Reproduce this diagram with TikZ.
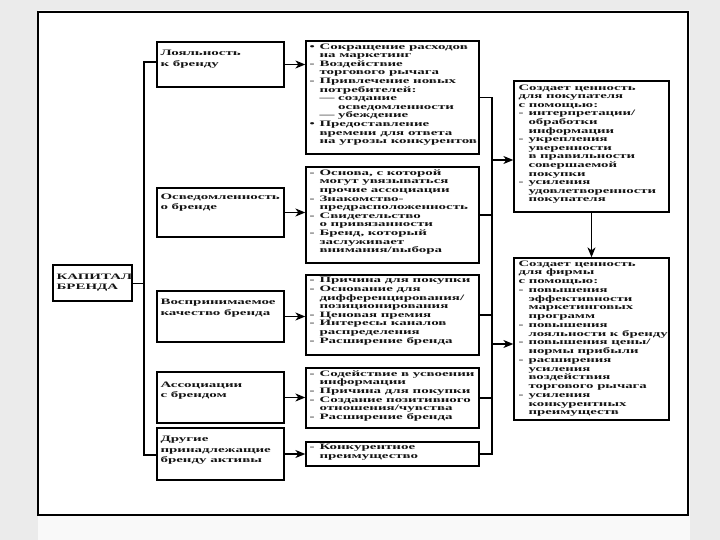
\documentclass[tikz,border=0pt]{standalone}
\usepackage{fontspec}
\setmainfont{Liberation Serif}[FakeStretch=1.8]
\newfontfamily\rfont{Liberation Serif}[FakeStretch=1.78]
\usetikzlibrary{arrows.meta}
\newcommand\mk[1]{\makebox[10pt][l]{#1}}
\newcommand\ci{\hspace*{10pt}}
\begin{document}
\begin{tikzpicture}[x=1pt,y=-1pt,
  box/.style={draw=black,line width=1.3pt,inner sep=0pt,rectangle},
  ln/.style={draw=black,line width=1.2pt},
  arr/.style={ln,-{Stealth[length=10pt,width=8pt,inset=3pt]}},
  txt/.style={anchor=north west,inner sep=0pt,align=left,text=black!92,font=\bfseries\fontsize{8.3}{8.6}\selectfont},
  ltxt/.style={txt,font=\bfseries\fontsize{8.3}{10.5}\selectfont},
  rtxt/.style={txt,font=\rfont\bfseries\fontsize{8.3}{8.6}\selectfont}]
\useasboundingbox (0,0) rectangle (720,540);
\fill[gray!16] (0,0) rectangle (720,540);
\fill[white!95!gray] (38,10) rectangle (690,540);
\fill[white] (38,12) rectangle (688,515);
\draw[line width=2.2pt] (38,12) rectangle (688,515);

% boxes
\node[box,minimum width=79pt,minimum height=36pt] (k) at (92.5,283) {};
\node[box,minimum width=127pt,minimum height=45pt] (l1) at (220.5,64.5) {};
\node[box,minimum width=127pt,minimum height=49pt] (l2) at (220.5,212.5) {};
\node[box,minimum width=127pt,minimum height=51pt] (l3) at (220.5,316.5) {};
\node[box,minimum width=127pt,minimum height=51pt] (l4) at (220.5,397.5) {};
\node[box,minimum width=127pt,minimum height=52pt] (l5) at (220.5,454) {};
\node[box,minimum width=173pt,minimum height=113pt] (m1) at (392.5,97.5) {};
\node[box,minimum width=173pt,minimum height=96pt] (m2) at (392.5,215) {};
\node[box,minimum width=173pt,minimum height=80pt] (m3) at (392.5,315) {};
\node[box,minimum width=173pt,minimum height=60pt] (m4) at (392.5,398) {};
\node[box,minimum width=173pt,minimum height=24pt] (m5) at (392.5,454) {};
\node[box,minimum width=155pt,minimum height=131pt] (r1) at (591.5,146.5) {};
\node[box,minimum width=155pt,minimum height=162pt] (r2) at (591.5,339) {};

% texts
\node[ltxt] (kt) at ([xshift=4pt,yshift=-9pt]k.north west) {КАПИТАЛ\\БРЕНДА};
\node[ltxt] (l1t) at ([xshift=4pt,yshift=-9pt]l1.north west) {Лояльность\\к бренду};
\node[ltxt] (l2t) at ([xshift=4pt,yshift=-6pt]l2.north west) {Осведомленность\\о бренде};
\node[ltxt] (l3t) at ([xshift=4pt,yshift=-9pt]l3.north west) {Воспринимаемое\\качество бренда};
\node[ltxt] (l4t) at ([xshift=4pt,yshift=-10pt]l4.north west) {Ассоциации\\с брендом};
\node[ltxt] (l5t) at ([xshift=4pt,yshift=-9pt]l5.north west) {Другие\\принадлежащие\\бренду активы};

\node[txt] (m1t) at ([xshift=4pt,yshift=-3pt]m1.north west) {\mk{•}Сокращение расходов\\
\ci на маркетинг\\
\mk{-}Воздействие\\
\ci торгового рычага\\
\mk{-}Привлечение новых\\
\ci потребителей:\\
\ci — создание\\
\ci\phantom{— }осведомленности\\
\ci — убеждение\\
\mk{•}Предоставление\\
\ci времени для ответа\\
\ci на угрозы конкурентов};
\node[txt] (m2t) at ([xshift=4pt,yshift=-3pt]m2.north west) {\mk{-}Основа, с которой\\
\ci могут увязываться\\
\ci прочие ассоциации\\
\mk{-}Знакомство-\\
\ci предрасположенность\\
\mk{-}Свидетельство\\
\ci о привязанности\\
\mk{-}Бренд, который\\
\ci заслуживает\\
\ci внимания/выбора};
\node[txt] (m3t) at ([xshift=4pt,yshift=-3pt]m3.north west) {\mk{-}Причина для покупки\\
\mk{-}Основание для\\
\ci дифференцирования/\\
\ci позиционирования\\
\mk{-}Ценовая премия\\
\mk{-}Интересы каналов\\
\ci распределения\\
\mk{-}Расширение бренда};
\node[txt] (m4t) at ([xshift=4pt,yshift=-3pt]m4.north west) {\mk{-}Содействие в усвоении\\
\ci информации\\
\mk{-}Причина для покупки\\
\mk{-}Создание позитивного\\
\ci отношения/чувства\\
\mk{-}Расширение бренда};
\node[txt] (m5t) at ([xshift=4pt,yshift=-3pt]m5.north west) {\mk{-}Конкурентное\\
\ci преимущество};

\node[rtxt] (r1t) at ([xshift=5pt,yshift=-4pt]r1.north west) {Создает ценность\\
для покупателя\\
с помощью:\\
\mk{-}интерпретации/\\
\ci обработки\\
\ci информации\\
\mk{-}укрепления\\
\ci уверенности\\
\ci в правильности\\
\ci совершаемой\\
\ci покупки\\
\mk{-}усиления\\
\ci удовлетворенности\\
\ci покупателя};
\node[rtxt,font=\rfont\bfseries\fontsize{8.3}{8.75}\selectfont] (r2t) at ([xshift=5pt,yshift=-3pt]r2.north west) {Создает ценность\\
для фирмы\\
с помощью:\\
\mk{-}повышения\\
\ci эффективности\\
\ci маркетинговых\\
\ci программ\\
\mk{-}повышения\\
\ci лояльности к бренду\\
\mk{-}повышения цены/\\
\ci нормы прибыли\\
\mk{-}расширения\\
\ci усиления\\
\ci воздействия\\
\ci торгового рычага\\
\mk{-}усиления\\
\ci конкурентных\\
\ci преимуществ};

% left bracket
\coordinate (bt) at (144,62);
\coordinate (bb) at (144,455);
\draw[ln] (l1.west |- bt) -- (bt) -- (bb) -- (l5.west |- bb);
\draw[ln,line width=0.9pt] (k.east) -- (k.east -| bt);

% arrows left -> middle
\foreach \a/\b in {l1/m1,l2/m2,l3/m3,l4/m4,l5/m5}
  \draw[arr] (\a.east) -- (\b.west |- \a.east);

% right bus
\coordinate (rx) at (492,0);
\draw[ln] (m1.east) -- (m1.east -| rx) -- (m5.east -| rx) -- (m5.east);
\foreach \m in {m2,m3,m4}
  \draw[ln] (\m.east) -- (\m.east -| rx);
\coordinate (a1) at (492,160);
\coordinate (a2) at (492,344);
\draw[arr] (a1) -- (r1.west |- a1);
\draw[arr] (a2) -- (r2.west |- a2);
\draw[arr] (r1.south) -- (r2.north);
\end{tikzpicture}
\end{document}
